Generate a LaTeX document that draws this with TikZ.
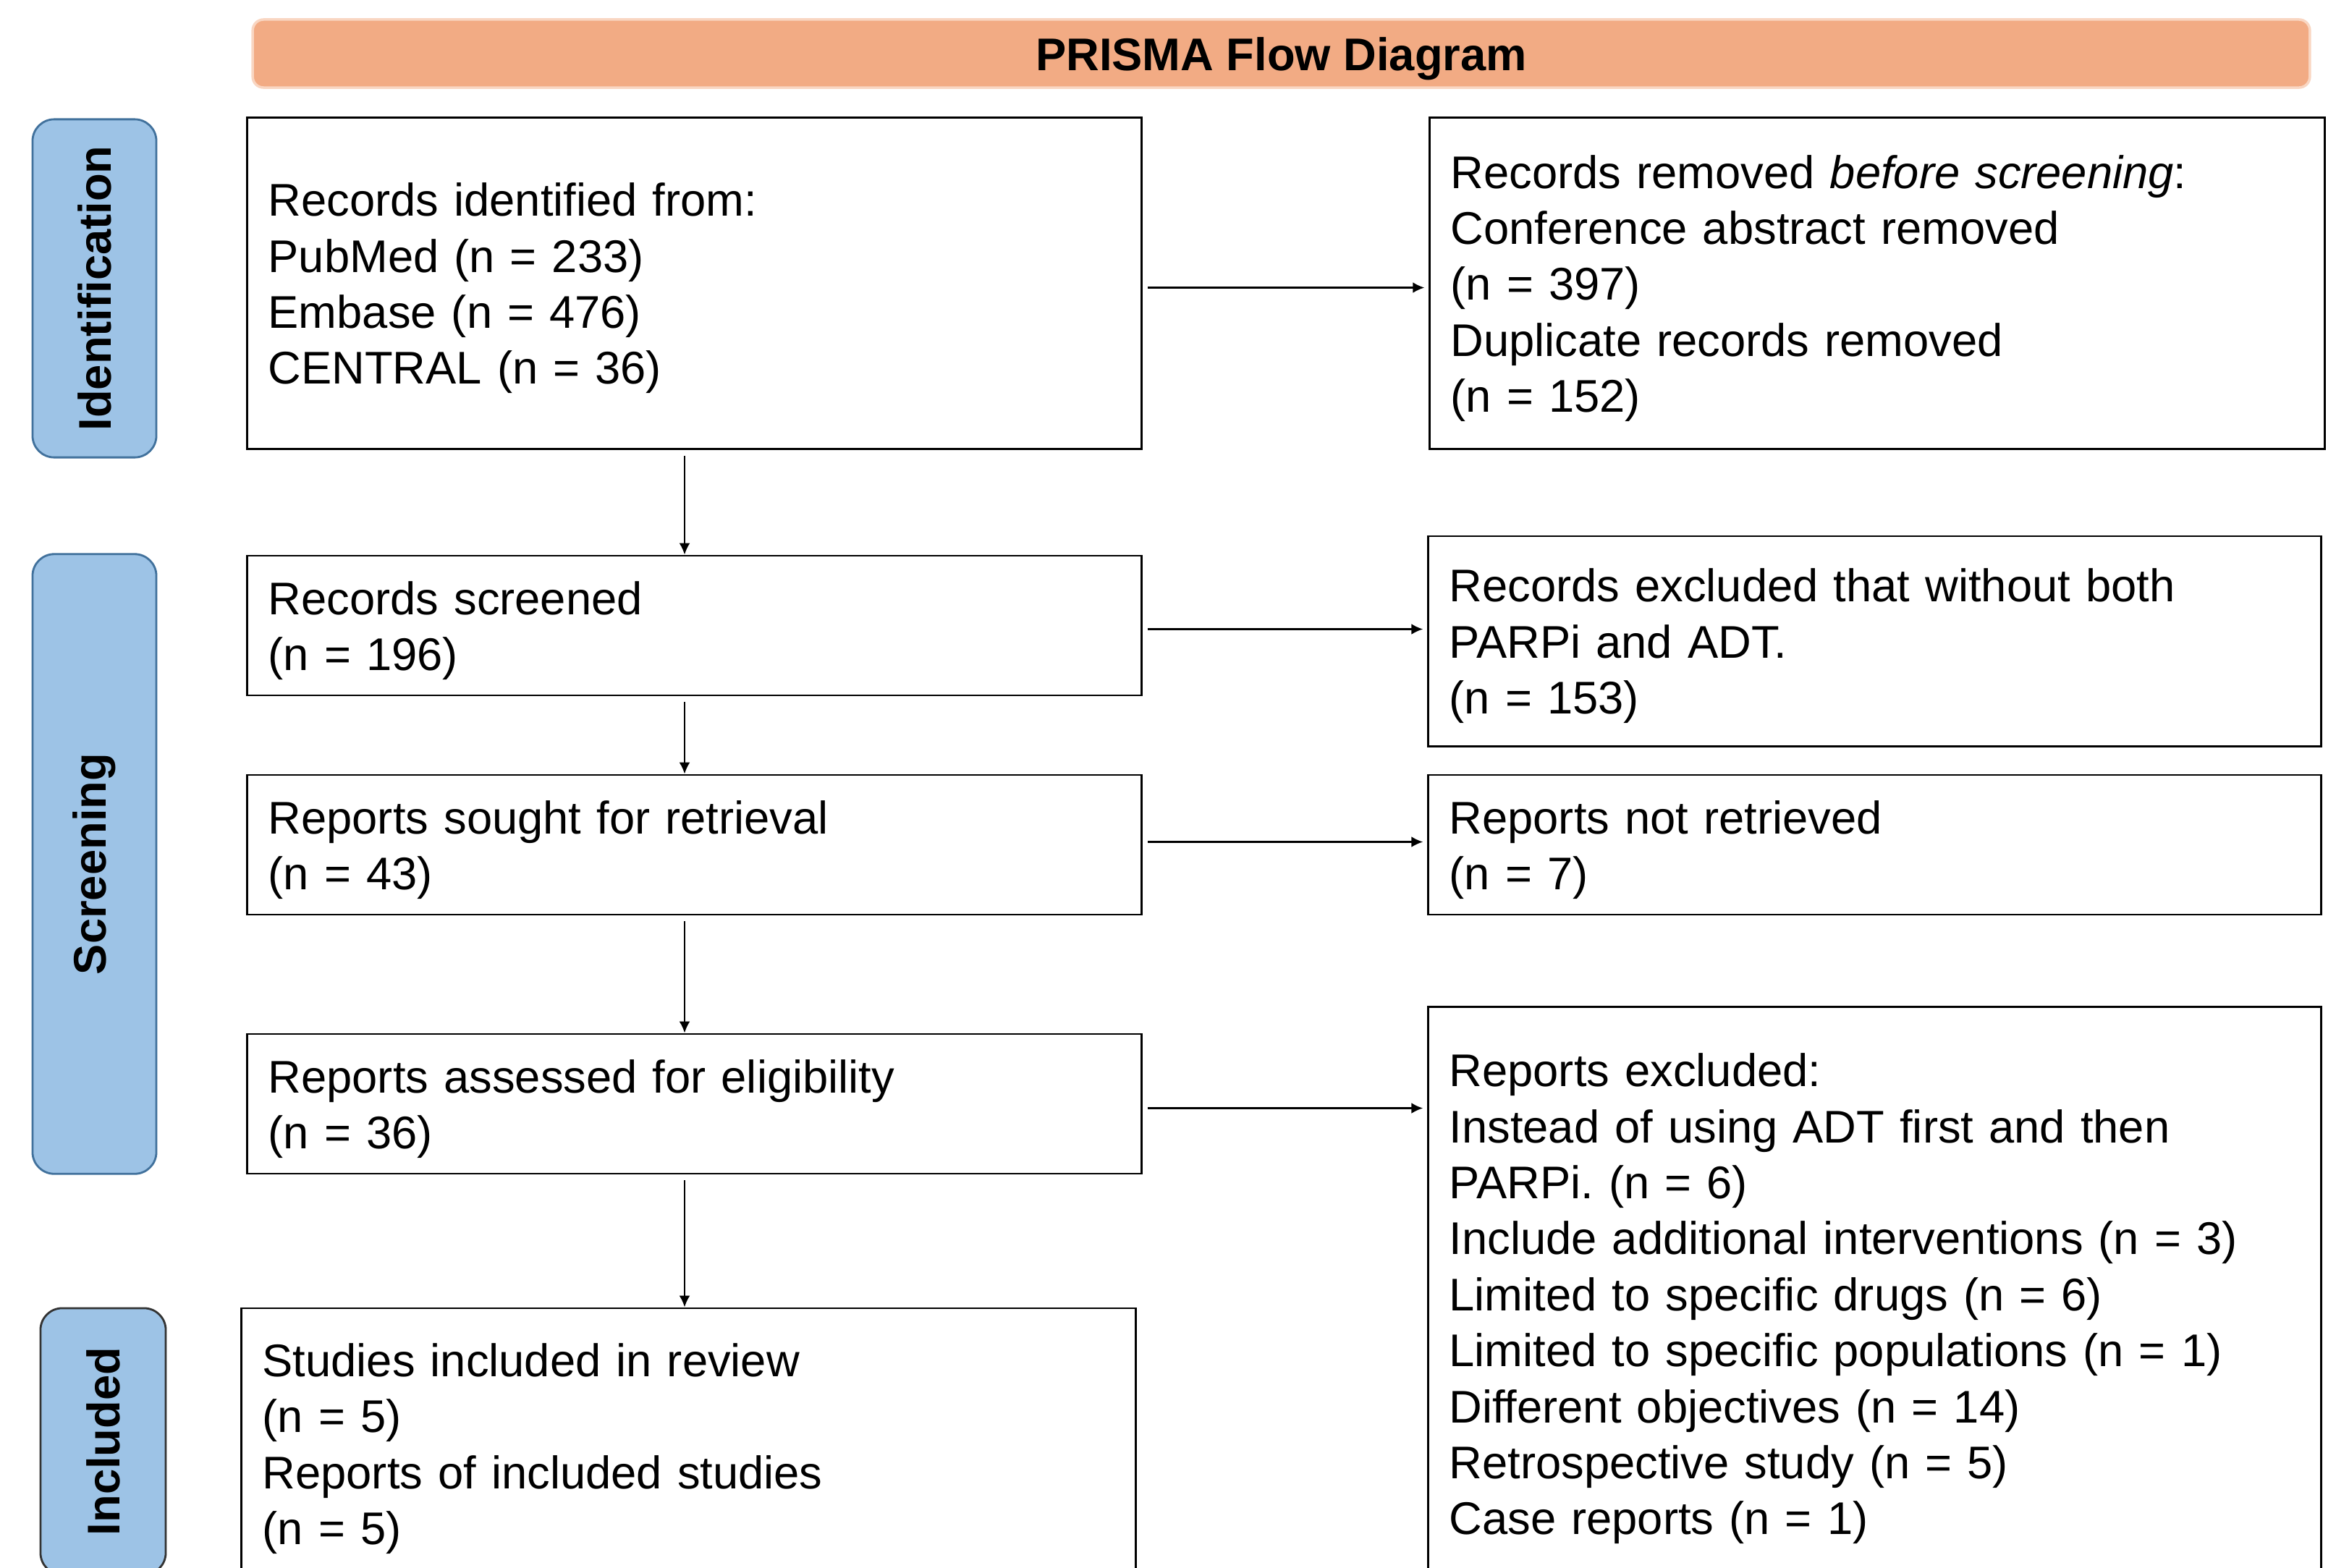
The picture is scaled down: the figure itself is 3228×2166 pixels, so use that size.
\documentclass[tikz,border=0pt]{standalone}
\usepackage{fontspec}
\setmainfont{Liberation Sans}
\usetikzlibrary{arrows.meta}
\frenchspacing
\definecolor{bannerfill}{HTML}{F2AB84}
\definecolor{bannerline}{HTML}{F9D6C2}
\definecolor{labfill}{HTML}{9DC3E6}
\definecolor{labline}{HTML}{41719C}
\begin{document}
\begin{tikzpicture}[x=0.01cm,y=-0.01cm,
  boxnode/.style={draw=black, line width=0.8pt, fill=white, inner xsep=0.29cm, inner ysep=0pt,
    align=left, anchor=center, font=\fontsize{18}{22}\selectfont,
    execute at begin node={\rule{0pt}{17pt}}},
  sidelab/.style={draw=labline, line width=0.8pt, fill=labfill, rounded corners=0.3cm, rotate=90,
    anchor=center, inner sep=0pt, font=\fontsize{18}{22}\selectfont\bfseries},
  arr/.style={-{Latex[length=4.5pt,width=4.2pt]}, line width=0.6pt, black}]
\useasboundingbox (0,0) rectangle (3228,2166);
\clip (0,0) rectangle (3228,2166);
\fill[white] (0,0) rectangle (3228,2166);

% banner
\node[draw=bannerline, line width=1pt, fill=bannerfill, rounded corners=0.15cm, minimum width=28.41cm,
  minimum height=0.94cm, inner sep=0pt, text height=17.5pt, text depth=4pt,
  font=\fontsize{18}{22}\selectfont\bfseries] (title) at (1770.5,74) {PRISMA Flow Diagram};

% side labels
\node[sidelab, minimum width=4.67cm, minimum height=1.71cm] (lid) at (130.5,398.5) {Identification};
\node[sidelab, minimum width=8.56cm, minimum height=1.71cm] (lsc) at (130.5,1194) {Screening};
\node[sidelab, draw=black!80, minimum width=3.68cm, minimum height=1.73cm] (lin) at (142.5,1992) {Included};

% boxes
\node[boxnode, minimum width=12.35cm, minimum height=4.57cm, text width=11.77cm] (b1) at (959.5,391.5)
  {Records identified from:\\PubMed (n = 233)\\Embase (n = 476)\\CENTRAL (n = 36)};
\node[boxnode, minimum width=12.36cm, minimum height=4.57cm, text width=11.78cm] (b2) at (2594,391.5)
  {Records removed \textit{before screening}:\\Conference abstract removed\\(n = 397)\\Duplicate records removed\\(n = 152)};
\node[boxnode, minimum width=12.35cm, minimum height=1.93cm, text width=11.77cm] (b3) at (959.5,864.5)
  {Records screened\\(n = 196)};
\node[boxnode, minimum width=12.33cm, minimum height=2.90cm, text width=11.75cm] (b4) at (2590.5,886)
  {Records excluded that without both\\PARPi and ADT.\\(n = 153)};
\node[boxnode, minimum width=12.35cm, minimum height=1.93cm, text width=11.77cm] (b5) at (959.5,1167.5)
  {Reports sought for retrieval\\(n = 43)};
\node[boxnode, minimum width=12.33cm, minimum height=1.93cm, text width=11.75cm] (b6) at (2590.5,1167.5)
  {Reports not retrieved\\(n = 7)};
\node[boxnode, minimum width=12.35cm, minimum height=1.93cm, text width=11.77cm] (b7) at (959.5,1525.5)
  {Reports assessed for eligibility\\(n = 36)};
\node[boxnode, minimum width=12.33cm, minimum height=7.92cm, text width=11.75cm] (b8) at (2590.5,1788)
  {Reports excluded:\\Instead of using ADT first and then\\PARPi. (n = 6)\\Include additional interventions (n = 3)\\Limited to specific drugs (n = 6)\\Limited to specific populations (n = 1)\\Different objectives (n = 14)\\Retrospective study (n = 5)\\Case reports (n = 1)};
\node[boxnode, minimum width=12.35cm, minimum height=3.74cm, text width=11.77cm] (b9) at (951.5,1995)
  {Studies included in review\\(n = 5)\\Reports of included studies\\(n = 5)};

% connectors
\coordinate (ax) at (946,0);
\draw[arr, shorten <=0.08cm] (b1.south -| ax) -- (b3.north -| ax);
\draw[arr, shorten <=0.08cm] (b3.south -| ax) -- (b5.north -| ax);
\draw[arr, shorten <=0.08cm] (b5.south -| ax) -- (b7.north -| ax);
\draw[arr, shorten <=0.08cm] (b7.south -| ax) -- (b9.north -| ax);

\draw[arr, shorten <=0.07cm, shorten >=0.06cm] ([yshift=-0.06cm]b1.east) -- ([yshift=-0.06cm]b1.east -| b2.west);
\draw[arr, shorten <=0.07cm, shorten >=0.06cm] ([yshift=-0.05cm]b3.east) -- ([yshift=-0.05cm]b3.east -| b4.west);
\draw[arr, shorten <=0.07cm, shorten >=0.06cm] ([yshift=0.04cm]b5.east) -- ([yshift=0.04cm]b5.east -| b6.west);
\draw[arr, shorten <=0.07cm, shorten >=0.06cm] ([yshift=-0.06cm]b7.east) -- ([yshift=-0.06cm]b7.east -| b8.west);
\end{tikzpicture}
\end{document}
